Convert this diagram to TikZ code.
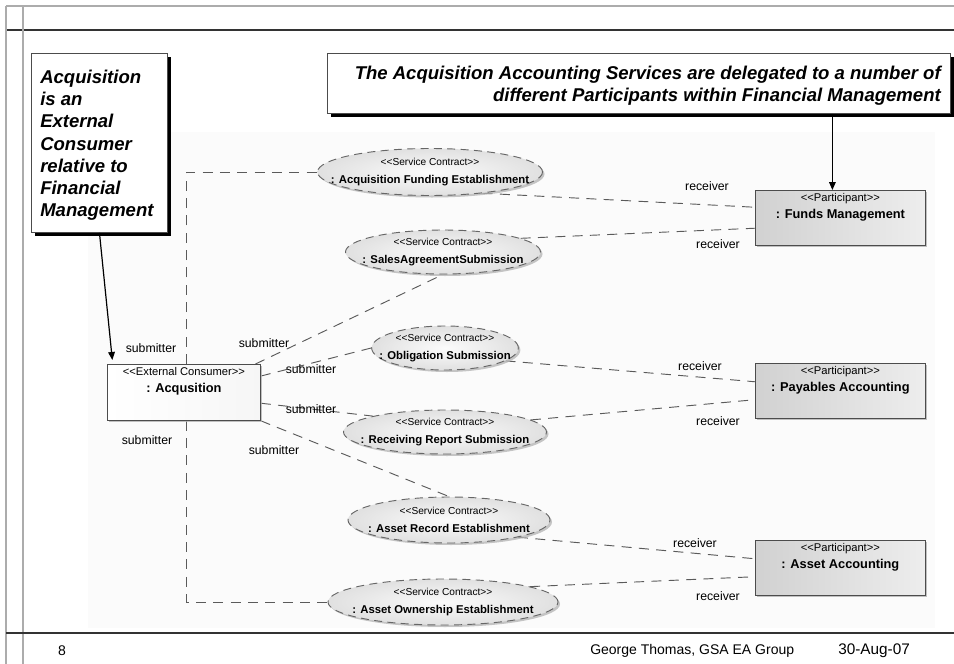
\documentclass[tikz,border=0pt]{standalone}
\usepackage{fontspec}
\setmainfont{Liberation Sans}
\usetikzlibrary{shapes.geometric,shadows,arrows.meta}
\definecolor{rimgray}{HTML}{666666}
\definecolor{linegray}{HTML}{5A5A5A}
\pgfdeclarelayer{bg}
\pgfdeclarelayer{lines}
\pgfsetlayers{bg,lines,main}
\begin{document}
\begin{tikzpicture}[x=0.75pt,y=-0.75pt,
  note/.style={draw=gray!60!black, fill=white, line width=0.7pt, inner sep=0pt,
    anchor=north west,
    drop shadow={fill=black, opacity=1, shadow xshift=3pt, shadow yshift=-3pt}},
  notetext/.style={inner sep=0pt, font=\fontsize{13.9}{16.6}\selectfont\bfseries\itshape},
  svc/.style={ellipse, draw=rimgray, line width=0.7pt, dash pattern=on 6pt off 4pt,
    inner color=gray!3, outer color=gray!24, inner sep=0pt,
    drop shadow={fill=gray!60, opacity=0.75, shadow xshift=1.5pt, shadow yshift=-1.5pt}},
  svctext/.style={align=center, inner sep=0pt},
  box/.style={draw=gray!60!black, line width=0.6pt, inner sep=0pt, anchor=north west,
    drop shadow={fill=gray!60, opacity=0.8, shadow xshift=1.5pt, shadow yshift=-1.5pt}},
  part/.style={box, left color=gray!36, right color=gray!14,
    minimum width=127.5pt, minimum height=41pt},
  consumer/.style={box, left color=white, right color=gray!7,
    minimum width=114.75pt, minimum height=42pt},
  boxtext/.style={align=center, inner sep=0pt, anchor=north},
  lbl/.style={inner sep=0pt, font=\fontsize{9.2}{11}\selectfont},
  conn/.style={draw=linegray, line width=0.7pt, dash pattern=on 7.5pt off 5.5pt},
  arr/.style={draw=black, line width=0.9pt, -{Triangle[length=6pt,width=5pt]}},
  foot/.style={inner sep=0pt, font=\fontsize{10.5}{12}\selectfont}
]
\useasboundingbox (0,0) rectangle (954,664);

% page frame
\begin{pgfonlayer}{bg}
  \fill[gray!3] (88,132) rectangle (935,628);
  \draw[gray!65, line width=1pt] (6,6) -- (954,6);
  \draw[black!80, line width=1.6pt] (6,30) -- (954,30);
  \draw[gray!65, line width=1pt] (6,6) -- (6,664);
  \draw[gray!65, line width=1pt] (23,6) -- (23,664);
  \draw[black!80, line width=1.4pt] (6,633) -- (954,633);
\end{pgfonlayer}

% callouts
\node[note, minimum width=102pt, minimum height=134.25pt] (cl) at (31,53) {};
\node[notetext, anchor=north west, align=left] (clt) at (40,70)
  {Acquisition\\is an\\External\\Consumer\\relative to\\Financial\\Management};
\node[note, minimum width=467.25pt, minimum height=45pt] (cr) at (327,53) {};
\node[notetext, anchor=north east, align=right] (crt) at (941,66)
  {The Acquisition Accounting Services are delegated to a number of\\
   different Participants within Financial Management};

% consumer and participants
\newcommand{\stereo}[1]{{\fontsize{8.4}{9}\selectfont <{}<#1>{}>}}
\newcommand{\boxname}[1]{{\fontsize{9.6}{11}\selectfont\bfseries #1}}
\node[consumer] (acq) at (107,364) {};
\node[boxtext] (acqt) at ([yshift=-2pt]acq.north)
  {\stereo{External Consumer}\\[1pt]\boxname{: Acqusition}};

\node[part] (fm) at (755,190) {};
\node[boxtext] (fmt) at ([yshift=-2pt]fm.north)
  {\stereo{Participant}\\[1pt]\boxname{: Funds Management}};

\node[part] (pa) at (755,363) {};
\node[boxtext] (pat) at ([yshift=-2pt]pa.north)
  {\stereo{Participant}\\[1pt]\boxname{: Payables Accounting}};

\node[part] (aa) at (755,540) {};
\node[boxtext] (aat) at ([yshift=-2pt]aa.north)
  {\stereo{Participant}\\[1pt]\boxname{: Asset Accounting}};

% service contracts
\newcommand{\contract}[1]{{\fontsize{7.6}{8}\selectfont <{}<Service Contract>{}>}\\[2pt]
  {\fontsize{8.5}{10}\selectfont\bfseries #1}}
\node[svc, minimum width=168.75pt, minimum height=35.25pt] (e1) at (430,172) {};
\node[svctext] (e1t) at (e1) {\contract{: Acquisition Funding Establishment}};
\node[svc, minimum width=146.25pt, minimum height=33pt] (e2) at (443,252) {};
\node[svctext] (e2t) at (e2) {\contract{: SalesAgreementSubmission}};
\node[svc, minimum width=110pt, minimum height=33pt] (e3) at (445,348) {};
\node[svctext] (e3t) at (e3) {\contract{: Obligation Submission}};
\node[svc, minimum width=152.25pt, minimum height=33pt] (e4) at (445,432) {};
\node[svctext] (e4t) at (e4) {\contract{: Receiving Report Submission}};
\node[svc, minimum width=151.5pt, minimum height=34.5pt] (e5) at (449,520) {};
\node[svctext] (e5t) at (e5) {\contract{: Asset Record Establishment}};
\node[svc, minimum width=172.5pt, minimum height=34.5pt] (e6) at (443,602) {};
\node[svctext] (e6t) at (e6) {\contract{: Asset Ownership Establishment}};

% role connectors
\begin{pgfonlayer}{lines}
  \draw[conn] ([xshift=2pt]acq.north) |- (e1.west);
  \draw[conn] ([xshift=2pt]acq.south) |- (e6.west);
  \draw[conn] ([xshift=-4pt]acq.north east) -- (e2.south);
  \draw[conn] (acq.12) -- (e3.west);
  \draw[conn] (acq.-8) -- (e4.north west);
  \draw[conn] (acq.south east) -- (e5.north);
  \draw[conn] (e1.-22) -- (fm.173);
  \draw[conn] (e2.10) -- (fm.187);
  \draw[conn] (e3.-12) -- (pa.174);
  \draw[conn] (e4.8) -- (pa.186);
  \draw[conn] (e5.-14) -- (aa.174);
  \draw[conn] (e6.10) -- (aa.186);
\end{pgfonlayer}

% role labels
\node[lbl] (s1) at (151,348) {submitter};
\node[lbl] (s2) at (147,440) {submitter};
\node[lbl] (s3) at (264,343) {submitter};
\node[lbl] (s4) at (311,369) {submitter};
\node[lbl] (s5) at (311,409) {submitter};
\node[lbl] (s6) at (274,450) {submitter};
\node[lbl] (r1) at (707,186) {receiver};
\node[lbl] (r2) at (718,244) {receiver};
\node[lbl] (r3) at (700,366) {receiver};
\node[lbl] (r4) at (718,421) {receiver};
\node[lbl] (r5) at (695,543) {receiver};
\node[lbl] (r6) at (718,596) {receiver};

% callout pointers
\draw[arr] (cl.south) -- ([xshift=4pt,yshift=3pt]acq.north west);
\draw[arr] ([xshift=-6pt]fm.north |- cr.south) -- ([xshift=-6pt]fm.north);

% footer
\node[foot] (pg) at (62,651) {8};
\node[foot, anchor=west] (au) at (590,651) {George Thomas, GSA EA Group};
\node[foot, anchor=west, font=\fontsize{11.5}{13}\selectfont] (dt) at (838,651) {30-Aug-07};
\end{tikzpicture}
\end{document}
